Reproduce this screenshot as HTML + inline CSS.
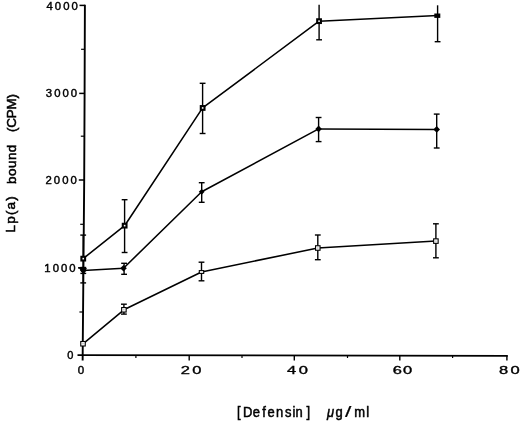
<!DOCTYPE html>
<html><head><meta charset="utf-8"><title>Lp(a) bound vs Defensin</title>
<style>
html,body{margin:0;padding:0;background:#fff;}
body{width:520px;height:422px;overflow:hidden;}
svg{display:block;}
text{font-family:"Liberation Sans",Arial,Helvetica,sans-serif;fill:#000;}
.num{stroke:#000;}
.lab{stroke:#000;stroke-width:0.5px;}
</style></head><body>
<svg width="520" height="422" viewBox="0 0 520 422">
<rect width="520" height="422" fill="#fff"/>

<g stroke="#000" fill="none" stroke-linecap="butt">
<polyline points="84.9,4.8 84.6,93 84.2,180 83.6,250 82.8,340 82.65,360.6" stroke-width="1.9"/>
<line x1="77.5" y1="355.2" x2="507.8" y2="355.8" stroke-width="1.8"/>
<line x1="79.4" y1="312.0" x2="83.0" y2="312.0" stroke-width="1.2"/>
<line x1="78.0" y1="267.9" x2="83.4" y2="267.9" stroke-width="1.5"/>
<line x1="80.2" y1="224.3" x2="83.8" y2="224.3" stroke-width="1.2"/>
<line x1="78.8" y1="180.0" x2="84.2" y2="180.0" stroke-width="1.5"/>
<line x1="80.8" y1="136.2" x2="84.4" y2="136.2" stroke-width="1.2"/>
<line x1="79.2" y1="93.4" x2="84.6" y2="93.4" stroke-width="1.5"/>
<line x1="81.1" y1="49.3" x2="84.7" y2="49.3" stroke-width="1.2"/>
<line x1="79.5" y1="5.4" x2="84.9" y2="5.4" stroke-width="1.5"/>
<line x1="135.9" y1="355.3" x2="135.9" y2="358.0" stroke-width="1.2"/>
<line x1="189.2" y1="355.4" x2="189.2" y2="360.6" stroke-width="1.4"/>
<line x1="242.0" y1="355.4" x2="242.0" y2="358.0" stroke-width="1.2"/>
<line x1="294.3" y1="355.5" x2="294.3" y2="360.6" stroke-width="1.4"/>
<line x1="347.5" y1="355.6" x2="347.5" y2="358.0" stroke-width="1.2"/>
<line x1="399.8" y1="355.6" x2="399.8" y2="360.6" stroke-width="1.4"/>
<line x1="452.6" y1="355.7" x2="452.6" y2="358.0" stroke-width="1.2"/>
<line x1="506.9" y1="355.8" x2="506.9" y2="360.6" stroke-width="1.4"/>
</g>
<g stroke="#000" stroke-width="1.4" fill="none">
<line x1="83.2" y1="235.1" x2="83.2" y2="282.9"/>
<line x1="80.3" y1="235.1" x2="86.1" y2="235.1"/>
<line x1="80.3" y1="282.9" x2="86.1" y2="282.9"/>
<line x1="124.6" y1="199.7" x2="124.6" y2="252.5"/>
<line x1="121.7" y1="199.7" x2="127.5" y2="199.7"/>
<line x1="121.7" y1="252.5" x2="127.5" y2="252.5"/>
<line x1="202.6" y1="83.3" x2="202.6" y2="133.5"/>
<line x1="199.7" y1="83.3" x2="205.5" y2="83.3"/>
<line x1="199.7" y1="133.5" x2="205.5" y2="133.5"/>
<line x1="319.1" y1="4.7" x2="319.1" y2="39.8"/>
<line x1="316.2" y1="39.8" x2="322.0" y2="39.8"/>
<line x1="437.6" y1="5.3" x2="437.6" y2="41.7"/>
<line x1="434.7" y1="41.7" x2="440.5" y2="41.7"/>
<line x1="83.3" y1="267.5" x2="83.3" y2="273.4"/>
<line x1="80.4" y1="267.5" x2="86.2" y2="267.5"/>
<line x1="80.4" y1="273.4" x2="86.2" y2="273.4"/>
<line x1="124.1" y1="263.3" x2="124.1" y2="274.3"/>
<line x1="121.2" y1="263.3" x2="127.0" y2="263.3"/>
<line x1="121.2" y1="274.3" x2="127.0" y2="274.3"/>
<line x1="201.7" y1="182.7" x2="201.7" y2="202.3"/>
<line x1="198.8" y1="182.7" x2="204.6" y2="182.7"/>
<line x1="198.8" y1="202.3" x2="204.6" y2="202.3"/>
<line x1="318.6" y1="117.5" x2="318.6" y2="141.6"/>
<line x1="315.7" y1="117.5" x2="321.5" y2="117.5"/>
<line x1="315.7" y1="141.6" x2="321.5" y2="141.6"/>
<line x1="436.7" y1="114.1" x2="436.7" y2="148.0"/>
<line x1="433.8" y1="114.1" x2="439.6" y2="114.1"/>
<line x1="433.8" y1="148.0" x2="439.6" y2="148.0"/>
<line x1="123.9" y1="304.2" x2="123.9" y2="314.1"/>
<line x1="121.0" y1="304.2" x2="126.8" y2="304.2"/>
<line x1="121.0" y1="314.1" x2="126.8" y2="314.1"/>
<line x1="201.5" y1="262.2" x2="201.5" y2="280.8"/>
<line x1="198.6" y1="262.2" x2="204.4" y2="262.2"/>
<line x1="198.6" y1="280.8" x2="204.4" y2="280.8"/>
<line x1="317.8" y1="235.0" x2="317.8" y2="259.7"/>
<line x1="314.9" y1="235.0" x2="320.7" y2="235.0"/>
<line x1="314.9" y1="259.7" x2="320.7" y2="259.7"/>
<line x1="435.9" y1="223.8" x2="435.9" y2="257.8"/>
<line x1="433.0" y1="223.8" x2="438.8" y2="223.8"/>
<line x1="433.0" y1="257.8" x2="438.8" y2="257.8"/>
</g>
<g stroke="#000" stroke-width="1.55" fill="none" stroke-linejoin="round">
<polyline points="83.2,258.6 124.6,225.7 202.6,107.9 319.1,21.2 437.6,15.5"/>
<polyline points="83.3,270.4 123.5,268.2 201.7,191.8 318.6,128.9 436.7,129.4"/>
<polyline points="83.0,343.8 123.9,309.8 201.5,272.0 317.8,248.0 435.9,241.1"/>
</g>
<g stroke="#000">
<rect x="81.4" y="256.8" width="3.7" height="3.7" fill="#fff" stroke-width="2.1"/>
<rect x="122.8" y="223.8" width="3.7" height="3.7" fill="#fff" stroke-width="2.1"/>
<rect x="200.8" y="106.1" width="3.7" height="3.7" fill="#fff" stroke-width="2.1"/>
<rect x="317.2" y="19.3" width="3.7" height="3.7" fill="#fff" stroke-width="2.1"/>
<rect x="434.3" y="13.5" width="6" height="4.4" fill="#000" stroke="none"/>
<polygon points="83.3,267.1 86.6,270.4 83.3,273.7 80.0,270.4" fill="#000" stroke="none"/>
<polygon points="123.5,264.9 126.8,268.2 123.5,271.5 120.2,268.2" fill="#000" stroke="none"/>
<polygon points="201.7,188.9 204.6,191.8 201.7,194.7 198.8,191.8" fill="#000" stroke="none"/>
<polygon points="318.6,125.6 321.9,128.9 318.6,132.2 315.3,128.9" fill="#000" stroke="none"/>
<polygon points="436.7,126.1 440.0,129.4 436.7,132.7 433.4,129.4" fill="#000" stroke="none"/>
<polygon points="78.3,267.1 86.9,267.9 85.6,271 83.3,274.2 81,271" fill="#000" stroke="none"/>
<rect x="80.75" y="341.50" width="4.5" height="4.5" fill="#fff" stroke-width="1.1"/>
<rect x="82.4" y="343.2" width="1.2" height="1" fill="#999" stroke="none"/>
<rect x="121.65" y="307.55" width="4.5" height="4.5" fill="#fff" stroke-width="1.1"/>
<rect x="123.3" y="309.3" width="1.2" height="1" fill="#999" stroke="none"/>
<rect x="199.30" y="270.60" width="4.4" height="2.8" fill="#fff" stroke-width="1.1"/>
<rect x="315.55" y="245.75" width="4.5" height="4.5" fill="#fff" stroke-width="1.1"/>
<rect x="317.2" y="247.5" width="1.2" height="1" fill="#999" stroke="none"/>
<rect x="433.65" y="238.85" width="4.5" height="4.5" fill="#fff" stroke-width="1.1"/>
<rect x="435.3" y="240.6" width="1.2" height="1" fill="#999" stroke="none"/>
</g>
<text class="num" font-size="10.5" stroke-width="0.40" text-anchor="middle" transform="translate(49.7,9.5) scale(1.080,1)">4</text>
<text class="num" font-size="10.5" stroke-width="0.40" text-anchor="middle" transform="translate(58.0,9.5) scale(1.080,1)">0</text>
<text class="num" font-size="10.5" stroke-width="0.40" text-anchor="middle" transform="translate(66.3,9.5) scale(1.080,1)">0</text>
<text class="num" font-size="10.5" stroke-width="0.40" text-anchor="middle" transform="translate(74.6,9.5) scale(1.080,1)">0</text>
<text class="num" font-size="10.5" stroke-width="0.40" text-anchor="middle" transform="translate(49.0,96.9) scale(1.080,1)">3</text>
<text class="num" font-size="10.5" stroke-width="0.40" text-anchor="middle" transform="translate(57.3,96.9) scale(1.080,1)">0</text>
<text class="num" font-size="10.5" stroke-width="0.40" text-anchor="middle" transform="translate(65.6,96.9) scale(1.080,1)">0</text>
<text class="num" font-size="10.5" stroke-width="0.40" text-anchor="middle" transform="translate(73.9,96.9) scale(1.080,1)">0</text>
<text class="num" font-size="10.5" stroke-width="0.40" text-anchor="middle" transform="translate(48.7,184.4) scale(1.080,1)">2</text>
<text class="num" font-size="10.5" stroke-width="0.40" text-anchor="middle" transform="translate(57.0,184.4) scale(1.080,1)">0</text>
<text class="num" font-size="10.5" stroke-width="0.40" text-anchor="middle" transform="translate(65.3,184.4) scale(1.080,1)">0</text>
<text class="num" font-size="10.5" stroke-width="0.40" text-anchor="middle" transform="translate(73.6,184.4) scale(1.080,1)">0</text>
<text class="num" font-size="10.5" stroke-width="0.40" text-anchor="middle" transform="translate(47.5,271.9) scale(1.080,1)">1</text>
<text class="num" font-size="10.5" stroke-width="0.40" text-anchor="middle" transform="translate(55.8,271.9) scale(1.080,1)">0</text>
<text class="num" font-size="10.5" stroke-width="0.40" text-anchor="middle" transform="translate(64.1,271.9) scale(1.080,1)">0</text>
<text class="num" font-size="10.5" stroke-width="0.40" text-anchor="middle" transform="translate(72.4,271.9) scale(1.080,1)">0</text>
<text class="num" font-size="10.5" stroke-width="0.40" text-anchor="middle" transform="translate(70.3,359.0) scale(1.050,1)">0</text>
<text class="num" font-size="10.5" stroke-width="0.40" text-anchor="middle" transform="translate(80.9,373.6) scale(1.100,1)">0</text>
<text class="num" font-size="11.0" stroke-width="0.35" text-anchor="middle" transform="translate(185.3,373.6) scale(1.500,1)">2</text>
<text class="num" font-size="11.0" stroke-width="0.35" text-anchor="middle" transform="translate(196.9,373.6) scale(1.500,1)">0</text>
<text class="num" font-size="11.0" stroke-width="0.35" text-anchor="middle" transform="translate(291.7,373.6) scale(1.500,1)">4</text>
<text class="num" font-size="11.0" stroke-width="0.35" text-anchor="middle" transform="translate(303.4,373.6) scale(1.500,1)">0</text>
<text class="num" font-size="11.0" stroke-width="0.35" text-anchor="middle" transform="translate(397.3,373.6) scale(1.500,1)">6</text>
<text class="num" font-size="11.0" stroke-width="0.35" text-anchor="middle" transform="translate(407.5,373.6) scale(1.500,1)">0</text>
<text class="num" font-size="11.0" stroke-width="0.35" text-anchor="middle" transform="translate(503.5,373.6) scale(1.500,1)">8</text>
<text class="num" font-size="11.0" stroke-width="0.35" text-anchor="middle" transform="translate(515.1,373.6) scale(1.500,1)">0</text>
<g transform="translate(0,417.0) scale(0.94,1)" style="font-size:13.8px">
<text class="lab" x="252.1 258.4 268.8 279.1 284.7 293.5 303.2 311.1 314.5 326.1" y="0">[Defensin]</text>
<text class="lab" x="347.9" y="0" font-style="italic">μ</text>
<text class="lab" x="357.0" y="0">g</text>
<text class="lab" style="stroke-width:0.2px" transform="translate(367.0,0.3) scale(1.75,1)">/</text>
<text class="lab" x="377.0 389.7" y="0">ml</text>
</g>
<g transform="rotate(-90)">
<text class="lab" style="font-size:13.4px;stroke-width:0.55px" x="-232.4" y="14.9" textLength="36.1" lengthAdjust="spacing">Lp(a)</text>
<text class="lab" style="font-size:13.4px;stroke-width:0.55px" x="-184.0" y="15.7" textLength="39.3" lengthAdjust="spacing">bound</text>
<text class="lab" style="font-size:13.4px;stroke-width:0.55px" x="-132.0" y="15.6" textLength="37.9" lengthAdjust="spacing">(CPM)</text>
</g>
</svg></body></html>
